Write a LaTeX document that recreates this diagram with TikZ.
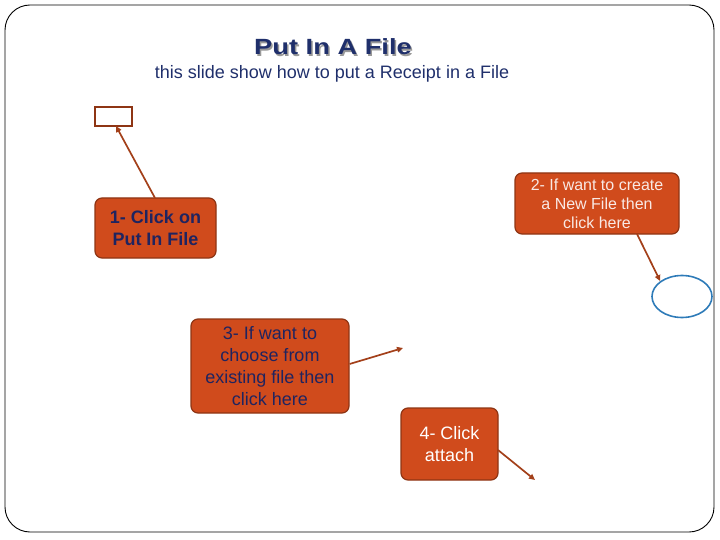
\documentclass[tikz,border=0pt]{standalone}
\usepackage{fontspec}
\setmainfont{Liberation Sans}
\usetikzlibrary{arrows.meta,shapes.geometric}
\definecolor{boxfill}{HTML}{D04B1C}
\definecolor{boxline}{HTML}{8E3514}
\definecolor{arr}{HTML}{A3401A}
\definecolor{navy}{HTML}{1F2460}
\definecolor{titlec}{HTML}{1F2F6B}
\definecolor{ellc}{HTML}{2E7BB8}
\tikzset{
  callout/.style={draw=boxline, fill=boxfill, line width=1.2pt, rounded corners=7pt, align=center, inner sep=0pt},
  conn/.style={draw=arr, line width=1.7pt, -{Triangle[length=6pt,width=5.5pt]}},
}
\begin{document}
\begin{tikzpicture}[x=1pt,y=-1pt]
\useasboundingbox (0,0) rectangle (720,540);
\draw[line width=0.9pt, rounded corners=25pt] (5,5) rectangle (714,532);
% title
\node[text=black!40, font=\bfseries\fontsize{22}{24}\selectfont] at (334.5,48.5) {\scalebox{1.24}[1]{Put In A File}};
\node (title) [text=titlec, font=\bfseries\fontsize{22}{24}\selectfont] at (333,47) {\scalebox{1.24}[1]{Put In A File}};
\node (sub) [text=titlec, font=\fontsize{18}{20}\selectfont] at (332,74) {this slide show how to put a Receipt in a File};
% box 1
\node (b1) [callout, minimum width=121pt, minimum height=60pt, text=navy, font=\bfseries\fontsize{18}{22}\selectfont] at (155.5,228) {1- Click on\\Put In File};
\node (r1) [draw=boxline, fill=white, line width=1.5pt, minimum width=37pt, minimum height=19pt, inner sep=0pt] at (113.5,116.5) {};
\coordinate (b1t) at (155,198);
\coordinate (r1b) at (116,126);
\draw[conn] (b1t) -- (r1b);
% box 2
\node (b2) [callout, minimum width=164pt, minimum height=61pt, text=white!88!boxfill, font=\fontsize{16}{19}\selectfont] at (597,203.5) {2- If want to create\\a New File then\\click here};
\node (e2) [ellipse, draw=ellc, line width=1.6pt, minimum width=60pt, minimum height=42pt, inner sep=0pt] at (682,296.5) {};
\coordinate (b2b) at (637,234);
\draw[conn] (b2b) -- (e2.north west);
% box 3
\node (b3) [callout, minimum width=158pt, minimum height=94pt, text=navy, font=\fontsize{18}{22}\selectfont] at (270,366) {3- If want to\\choose from\\existing file then\\click here};
\coordinate (t3) at (403,348);
\draw[conn] (b3.east) ++(0,-2) coordinate (s3) -- (t3);
% box 4
\node (b4) [callout, minimum width=97pt, minimum height=72pt, text=white, font=\fontsize{18}{22}\selectfont] at (449.5,444) {4- Click\\attach};
\coordinate (s4) at (498,450);
\coordinate (t4) at (535,480);
\draw[conn] (s4) -- (t4);
\end{tikzpicture}
\end{document}
